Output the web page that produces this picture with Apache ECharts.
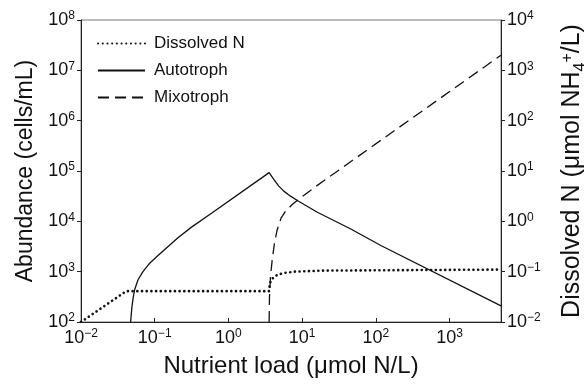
<!DOCTYPE html>
<html>
<head>
<meta charset="utf-8">
<script src="https://cdn.jsdelivr.net/npm/echarts@6/dist/echarts.min.js"></script>
<style>
  html, body { margin: 0; padding: 0; background: #fff; }
  #chart { width: 584px; height: 385px; }
</style>
</head>
<body>
<div id="chart"></div>
<script>
// ---- data ----
const seriesNames = ['Dissolved N', 'Autotroph', 'Mixotroph'];

// Dissolved N (right axis, µmol NH4+/L)
const loadN      = [0.01, 0.041, 3.57, 3.63, 3.80, 4.17, 4.79, 5.75, 7.94, 20, 5000];
const dissolvedN = [0.01, 0.041, 0.041, 0.0562, 0.0676, 0.0794, 0.0881, 0.0944, 0.1, 0.105, 0.11];

// Autotroph (left axis, cells/mL)
const loadA     = [0.0471, 0.0481, 0.0491, 0.0509, 0.0533, 0.0592, 0.0693, 0.0855, 0.111, 0.152, 0.207, 0.316, 0.590, 3.57, 4.13, 4.83, 5.65, 6.97, 8.61, 16.1, 45.8, 117, 5000];
const autotroph = [100, 141, 200, 295, 431, 682, 1000, 1472, 2089, 3162, 4732, 7674, 14450, 92900, 68230, 50120, 39810, 31620, 25940, 15140, 7047, 3311, 209];

// Mixotroph (left axis, cells/mL)
const loadM     = [3.57, 3.61, 3.72, 3.93, 4.22, 4.59, 5.20, 5.96, 7.35, 9.55, 16.1, 117, 5000];
const mixotroph = [100, 316, 794, 1714, 3698, 6823, 11700, 15850, 21580, 29380, 51760, 407400, 2.0e7];

// axis ranges
const xRange  = [0.01, 5000];
const yLeft   = [1e2, 1e8];
const yRight  = [1e-2, 1e4];

const zip = (xs, ys) => xs.map((x, i) => [x, ys[i]]);

function powLabel(v) {
  const l = Math.log10(v);
  const e = Math.round(l);
  if (Math.abs(l - e) > 1e-6) return '';
  return '{b|10}{s|' + (e < 0 ? '\u2212' + (-e) : String(e)) + '}';
}

const FONT = 'Liberation Sans';
const INK = '#111';
const tickRich = {
  b: { fontFamily: FONT, fontSize: 18, color: INK, lineHeight: 20 },
  s: { fontFamily: FONT, fontSize: 12, color: INK, verticalAlign: 'top', lineHeight: 12 }
};

const chart = echarts.init(document.getElementById('chart'), null, { renderer: 'canvas' });

chart.setOption({
  animation: false,
  backgroundColor: '#fff',
  textStyle: { fontFamily: FONT },
  grid: {
    left: 81, right: 83, top: 20, bottom: 63,
    outerBoundsMode: 'none',
    containLabel: false,
    show: true, borderColor: '#777', borderWidth: 1, backgroundColor: 'transparent'
  },
  legend: {
    orient: 'vertical',
    left: 92, top: 30,
    itemWidth: 47, itemHeight: 14, itemGap: 10,
    itemStyle: { opacity: 0 },
    textStyle: { fontFamily: FONT, fontSize: 17, color: INK, padding: [0, 0, 0, 4] },
    data: seriesNames
  },
  xAxis: {
    type: 'log', logBase: 10,
    min: xRange[0], max: xRange[1],
    name: 'Nutrient load (\u03bcmol N/L)',
    nameLocation: 'middle', nameGap: 32,
    nameTextStyle: { fontFamily: FONT, fontSize: 24, color: INK },
    axisLine: { show: true, lineStyle: { color: '#222', width: 1 } },
    axisTick: { show: true, inside: true, length: 4, lineStyle: { color: '#222' } },
    minorTick: { show: false },
    splitLine: { show: false },
    axisLabel: { margin: 6, formatter: powLabel, rich: tickRich, showMaxLabel: false }
  },
  yAxis: [
    {
      type: 'log', logBase: 10,
      min: yLeft[0], max: yLeft[1],
      position: 'left',
      name: 'Abundance (cells/mL)',
      nameLocation: 'middle', nameGap: 44, nameRotate: 90,
      nameTextStyle: { fontFamily: FONT, fontSize: 23, color: INK },
      axisLine: { show: true, lineStyle: { color: '#222', width: 1 } },
      axisTick: { show: true, inside: false, length: 4, lineStyle: { color: '#222' } },
      splitLine: { show: false },
      axisLabel: { margin: 6, formatter: powLabel, rich: tickRich }
    },
    {
      type: 'log', logBase: 10,
      min: yRight[0], max: yRight[1],
      position: 'right',
      name: 'Dissolved N ({m|\u03bc}mol NH{sub|4}{sup|+}/L)',
      nameLocation: 'middle', nameGap: 59, nameRotate: 90,
      nameTextStyle: {
        fontFamily: FONT, fontSize: 25, color: INK,
        rich: {
          m: { fontFamily: FONT, fontSize: 25, color: INK },
          sub: { fontFamily: FONT, fontSize: 16, color: INK, verticalAlign: 'bottom', lineHeight: 16, padding: [0, 0, -4, 0] },
          sup: { fontFamily: FONT, fontSize: 16, color: INK, verticalAlign: 'top', lineHeight: 16 }
        }
      },
      axisLine: { show: true, lineStyle: { color: '#222', width: 1 } },
      axisTick: { show: true, inside: false, length: 4, lineStyle: { color: '#222' } },
      splitLine: { show: false },
      axisLabel: { margin: 6, formatter: powLabel, rich: tickRich }
    }
  ],
  series: [
    {
      name: seriesNames[0], type: 'line', yAxisIndex: 1,
      symbol: 'none', showSymbol: false,
      itemStyle: { color: INK },
      data: zip(loadN, dissolvedN),
      lineStyle: { color: INK, width: 2.6, type: [0.1, 4.6], cap: 'round' },
      z: 3
    },
    {
      name: seriesNames[1], type: 'line', yAxisIndex: 0,
      symbol: 'none', showSymbol: false,
      itemStyle: { color: INK },
      data: zip(loadA, autotroph),
      lineStyle: { color: INK, width: 1.3, type: 'solid' },
      z: 2
    },
    {
      name: seriesNames[2], type: 'line', yAxisIndex: 0,
      symbol: 'none', showSymbol: false,
      itemStyle: { color: INK },
      data: zip(loadM, mixotroph),
      lineStyle: { color: INK, width: 1.3, type: [11, 6] },
      z: 2
    }
  ]
});
</script>
</body>
</html>
